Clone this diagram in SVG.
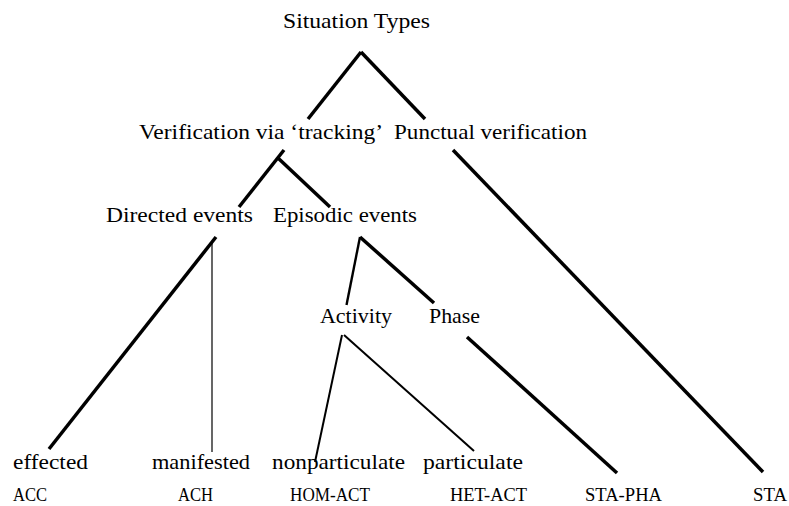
<svg xmlns="http://www.w3.org/2000/svg" width="789" height="506" viewBox="0 0 789 506">
<style>
.bg{fill:#ffffff}
.e{stroke:#000;fill:none;stroke-linecap:butt}
.w4{stroke-width:3.5}
.w3{stroke-width:2.4}
.w2{stroke-width:2}
.w1{stroke-width:1.2}
.t{font-size:22px;fill:#000}
.s{font-size:18px;fill:#000}
</style>
<rect class="bg" x="0" y="0" width="789" height="506"/>
<g id="connectors">
<path class="e w4" d="M361,52 L308,119"/>
<path class="e w4" d="M361,52 L425,119"/>
<path class="e w4" d="M284,150 L239,207"/>
<path class="e w4" d="M278,158 L330,207"/>
<path class="e w4" d="M453,150 L763,472"/>
<path class="e w4" d="M216,237 L49,449"/>
<path class="e w1" d="M212,241 L212,452"/>
<path class="e w3" d="M360,237 L346.5,305"/>
<path class="e w4" d="M360,237 L434,303"/>
<path class="e w2" d="M342,335 L315,462"/>
<path class="e w2" d="M344,335 L474,451"/>
<path class="e w4" d="M467,337 L617,473"/>
</g>
<g font-family="Times New Roman, Liberation Serif, Tinos, serif">
<g id="n-root"><text class="t" x="283" y="28" textLength="147" lengthAdjust="spacingAndGlyphs">Situation Types</text></g>
<g id="n-tracking"><text class="t" x="139" y="139" textLength="244" lengthAdjust="spacingAndGlyphs">Verification via ‘tracking’</text></g>
<g id="n-punctual"><text class="t" x="394" y="139" textLength="193" lengthAdjust="spacingAndGlyphs">Punctual verification</text></g>
<g id="n-directed"><text class="t" x="106" y="222" textLength="147" lengthAdjust="spacingAndGlyphs">Directed events</text></g>
<g id="n-episodic"><text class="t" x="273" y="222" textLength="144" lengthAdjust="spacingAndGlyphs">Episodic events</text></g>
<g id="n-activity"><text class="t" x="320" y="323" textLength="72" lengthAdjust="spacingAndGlyphs">Activity</text></g>
<g id="n-phase"><text class="t" x="429" y="323" textLength="51" lengthAdjust="spacingAndGlyphs">Phase</text></g>
<g id="n-effected"><text class="t" x="13" y="469" textLength="75" lengthAdjust="spacingAndGlyphs">effected</text><text class="s" x="13" y="501" textLength="34" lengthAdjust="spacingAndGlyphs">ACC</text></g>
<g id="n-manifested"><text class="t" x="152" y="469" textLength="98" lengthAdjust="spacingAndGlyphs">manifested</text><text class="s" x="178" y="501" textLength="35" lengthAdjust="spacingAndGlyphs">ACH</text></g>
<g id="n-nonparticulate"><text class="t" x="272" y="469" textLength="133" lengthAdjust="spacingAndGlyphs">nonparticulate</text><text class="s" x="290" y="501" textLength="80" lengthAdjust="spacingAndGlyphs">HOM-ACT</text></g>
<g id="n-particulate"><text class="t" x="423" y="469" textLength="100" lengthAdjust="spacingAndGlyphs">particulate</text><text class="s" x="450" y="501" textLength="77" lengthAdjust="spacingAndGlyphs">HET-ACT</text></g>
<g id="n-staPha"><text class="s" x="585" y="501" textLength="77" lengthAdjust="spacingAndGlyphs">STA-PHA</text></g>
<g id="n-sta"><text class="s" x="753" y="501" textLength="34" lengthAdjust="spacingAndGlyphs">STA</text></g>
</g>
</svg>
